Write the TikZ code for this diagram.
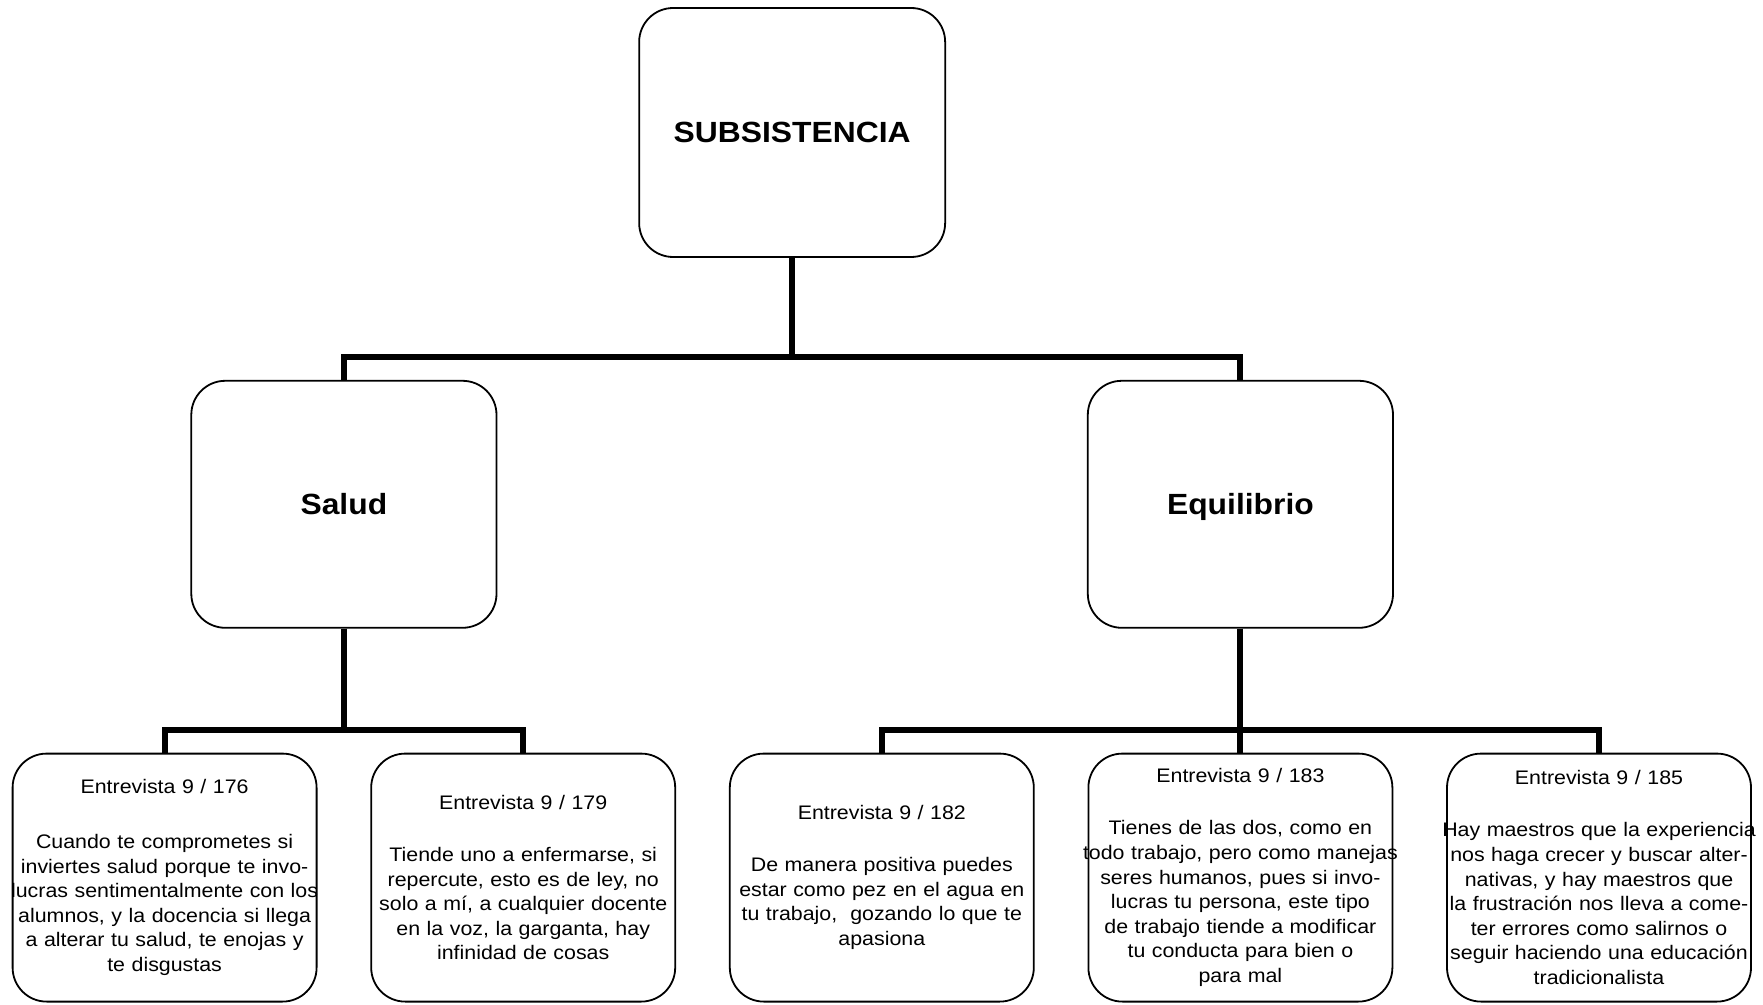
\documentclass[tikz,border=0pt]{standalone}
\usepackage{fontspec}
\setmainfont{Liberation Sans}[FakeStretch=1.09]
\usepackage{tikz}
\usetikzlibrary{positioning, calc}
\newcommand{\wideline}[1]{\makebox[\hsize][c]{#1}}

\begin{document}
\begin{tikzpicture}[node distance=26.4pt, line join=miter,
    box/.style={draw, line width=0.9pt, rounded corners=17pt, align=center, inner sep=0pt},
    root/.style={box, minimum width=153pt, minimum height=124.5pt, text height=10.4pt, text depth=0pt, font=\bfseries\fontsize{14.6pt}{17pt}\selectfont},
    topic/.style={box, minimum width=152.6pt, minimum height=123.5pt, text height=10.4pt, text depth=0pt, font=\bfseries\fontsize{14.6pt}{17pt}\selectfont},
    quote/.style={box, text width=152pt, minimum height=124pt, font=\fontsize{9.8pt}{12.3pt}\selectfont},
    link/.style={line width=3pt}]
  \useasboundingbox (0,0) rectangle (881.5pt,-502.5pt);

  \node[quote] (e1) at (82.3pt,-438.8pt) {Entrevista 9 / 176\\[15pt]
    Cuando te comprometes si\\ inviertes salud porque te invo-\\ \wideline{lucras sentimentalmente con los}\\
    alumnos, y la docencia si llega\\ a alterar tu salud, te enojas y\\ te disgustas};
  \node[quote] (e2) [right=of e1] {Entrevista 9 / 179\\[13.7pt]
    Tiende uno a enfermarse, si\\ repercute, esto es de ley, no\\ solo a mí, a cualquier docente\\
    en la voz, la garganta, hay\\ infinidad de cosas};
  \node[quote] (e3) [right=of e2] {Entrevista 9 / 182\\[13.7pt]
    De manera positiva puedes\\ estar como pez en el agua en\\ tu trabajo,\ \ gozando lo que te\\ apasiona};
  \node[quote] (e4) [right=of e3] {Entrevista 9 / 183\\[13.7pt]
    Tienes de las dos, como en\\ \wideline{todo trabajo, pero como manejas}\\ seres humanos, pues si invo-\\
    lucras tu persona, este tipo\\ de trabajo tiende a modificar\\ tu conducta para bien o\\ para mal};
  \node[quote] (e5) [right=of e4] {Entrevista 9 / 185\\[13.7pt]
    \wideline{Hay maestros que la experiencia}\\ nos haga crecer y buscar alter-\\ nativas, y hay maestros que\\
    la frustración nos lleva a come-\\ ter errores como salirnos o\\ \wideline{seguir haciendo una educación}\\ tradicionalista};

  \coordinate (m1) at ($(e1.north)!0.5!(e2.north)$);
  \node[topic] (salud) [above=62pt of m1] {Salud};
  \node[topic] (equil) [above=62pt of e4] {Equilibrio};
  \coordinate (m2) at ($(salud.north)!0.5!(equil.north)$);
  \node[root] (subs) [above=61pt of m2] {SUBSISTENCIA};

  \draw[link] (subs.south) -- ++(0,-49.6pt) -| (salud.north);
  \draw[link] (subs.south) -- ++(0,-49.6pt) -| (equil.north);
  \draw[link] (salud.south) -- ++(0,-50.5pt) -| (e1.north);
  \draw[link] (salud.south) -- ++(0,-50.5pt) -| (e2.north);
  \draw[link] (equil.south) -- ++(0,-50.5pt) -| (e3.north);
  \draw[link] (equil.south) -- (e4.north);
  \draw[link] (equil.south) -- ++(0,-50.5pt) -| (e5.north);
\end{tikzpicture}
\end{document}
